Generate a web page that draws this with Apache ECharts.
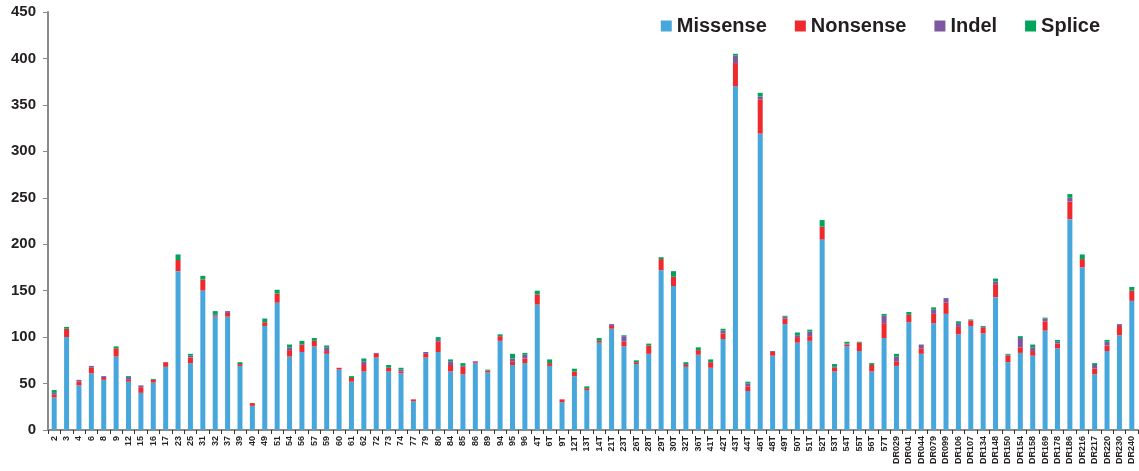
<!DOCTYPE html>
<html>
<head>
<meta charset="utf-8">
<script src="https://cdn.jsdelivr.net/npm/echarts@6/dist/echarts.min.js"></script>
<style>
  html, body { margin: 0; padding: 0; background: #ffffff; }
  #chart { width: 1139px; height: 471px; }
</style>
</head>
<body>
<div id="chart"></div>
<script>
// Sample identifiers along the x axis
const categories = [
  '2','3','4','6','8','9','12','15','16','17',
  '23','25','31','32','37','39','40','49','51','54',
  '56','57','59','60','61','62','72','73','74','77',
  '79','80','84','85','86','89','94','95','96','4T',
  '6T','9T','12T','13T','14T','21T','23T','26T','28T','29T',
  '30T','32T','36T','41T','42T','43T','44T','46T','48T','49T',
  '50T','51T','52T','53T','54T','55T','56T','57T','DR029','DR041',
  'DR044','DR079','DR099','DR106','DR107','DR134','DR148','DR150','DR154','DR158',
  'DR169','DR178','DR186','DR216','DR217','DR220','DR230','DR240'
];

// Mutation counts per sample, by mutation class
const missense = [
  35, 100, 48, 61, 54, 79, 52, 40, 51, 68,
  171, 72, 150, 122, 122, 69, 26, 112, 137, 79,
  84, 90, 82, 65, 52, 63, 78, 63, 61, 31,
  78, 84, 63, 60, 72, 62, 96, 70, 72, 135,
  69, 30, 58, 43, 94, 109, 90, 71, 82, 172,
  155, 68, 81, 67, 98, 370, 42, 319, 80, 114,
  94, 96, 205, 63, 90, 85, 63, 99, 69, 116,
  82, 115, 125, 103, 112, 104, 143, 73, 83, 80,
  107, 88, 227, 175, 60, 85, 102, 139
];
const nonsense = [
  3, 9, 4, 6, 2, 9, 2, 6, 3, 5,
  12, 6, 12, 1, 4, 2, 3, 4, 10, 7,
  8, 6, 3, 2, 4, 7, 4, 4, 2, 2,
  4, 11, 7, 8, 1, 2, 5, 4, 5, 11,
  3, 3, 5, 2, 2, 3, 5, 2, 9, 12,
  10, 2, 5, 6, 6, 25, 5, 37, 4, 6,
  6, 5, 14, 4, 2, 9, 7, 16, 5, 8,
  6, 10, 12, 8, 6, 6, 14, 7, 6, 5,
  10, 5, 19, 9, 6, 6, 10, 11
];
const indel = [
  2, 0, 2, 2, 2, 0, 3, 2, 0, 0,
  0, 2, 0, 1, 2, 0, 0, 0, 0, 3,
  0, 0, 4, 0, 0, 4, 1, 0, 2, 0,
  2, 2, 4, 1, 1, 0, 0, 3, 4, 0,
  0, 0, 0, 0, 0, 2, 6, 0, 0, 0,
  0, 1, 0, 0, 3, 8, 3, 3, 1, 2,
  2, 5, 0, 1, 1, 0, 0, 8, 5, 0,
  4, 5, 5, 4, 0, 1, 3, 1, 10, 4,
  3, 2, 4, 0, 4, 4, 2, 0
];
const splice = [
  3, 2, 0, 0, 0, 2, 1, 0, 1, 0,
  6, 2, 4, 4, 0, 2, 0, 4, 4, 3,
  4, 3, 2, 0, 2, 3, 0, 3, 2, 0,
  0, 3, 2, 3, 0, 1, 2, 5, 2, 4,
  4, 0, 3, 2, 3, 0, 1, 2, 2, 2,
  6, 2, 3, 3, 2, 2, 2, 4, 0, 1,
  3, 2, 7, 3, 2, 1, 2, 2, 3, 3,
  0, 2, 0, 2, 1, 1, 3, 1, 2, 3,
  1, 2, 4, 5, 2, 2, 0, 4
];

const yMin = 0, yMax = 450, yStep = 50;

const textColor = '#231f20';
const axisGray = '#8a8a8a';
const fontFamily = '"Liberation Sans", Arial, sans-serif';

const seriesDefs = [
  { name: 'Missense', data: missense, color: '#47a7dd' },
  { name: 'Nonsense', data: nonsense, color: '#ee2a2e' },
  { name: 'Indel',    data: indel,    color: '#7e57a1' },
  { name: 'Splice',   data: splice,   color: '#00a45a' }
];

const chart = echarts.init(document.getElementById('chart'), null, { renderer: 'canvas' });

chart.setOption({
  backgroundColor: '#ffffff',
  animation: false,
  textStyle: { fontFamily: fontFamily },
  legend: {
    top: 11,
    right: 34,
    itemWidth: 11,
    itemHeight: 11,
    itemGap: 28,
    icon: 'rect',
    textStyle: {
      fontSize: 20,
      fontWeight: 'bold',
      color: textColor,
      fontFamily: fontFamily
    },
    data: seriesDefs.map(s => s.name)
  },
  grid: {
    left: 48,
    right: 1,
    top: 12,
    bottom: 41,
    containLabel: false
  },
  xAxis: {
    type: 'category',
    data: categories,
    boundaryGap: true,
    axisLine: { lineStyle: { color: axisGray, width: 2 } },
    axisTick: {
      show: true,
      alignWithLabel: false,
      length: 4,
      lineStyle: { color: '#333333', width: 1 }
    },
    axisLabel: {
      interval: 0,
      rotate: 90,
      margin: 6,
      fontSize: 9,
      fontWeight: 'bold',
      color: textColor,
      fontFamily: fontFamily
    }
  },
  yAxis: {
    type: 'value',
    min: yMin,
    max: yMax,
    interval: yStep,
    splitLine: { show: false },
    axisLine: { show: true, lineStyle: { color: axisGray, width: 2 } },
    axisTick: { show: true, length: 5, lineStyle: { color: axisGray, width: 1 } },
    axisLabel: {
      margin: 12,
      fontSize: 15,
      fontWeight: 'bold',
      color: textColor,
      fontFamily: fontFamily
    }
  },
  series: seriesDefs.map(s => ({
    name: s.name,
    type: 'bar',
    stack: 'mutations',
    barWidth: 5,
    itemStyle: { color: s.color },
    data: s.data
  }))
});
</script>
</body>
</html>
